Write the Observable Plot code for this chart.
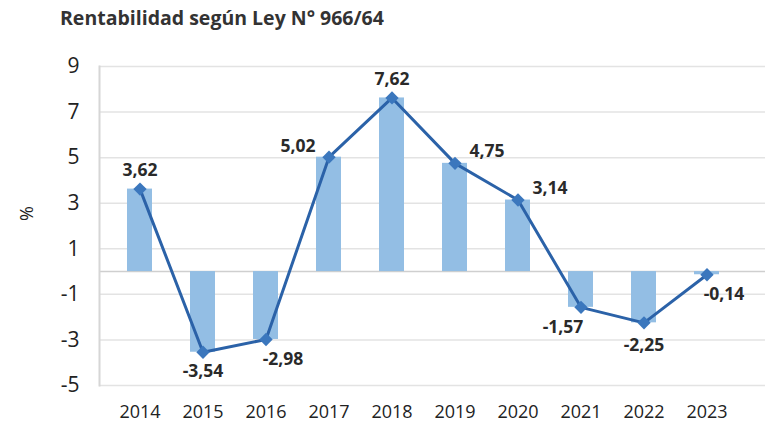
<!DOCTYPE html>
<html>
<head>
<meta charset="utf-8">
<script src="https://cdn.jsdelivr.net/npm/d3@7"></script>
<script src="https://cdn.jsdelivr.net/npm/@observablehq/plot@0.6"></script>
<style>
  body { margin: 0; background: #fff; font-family: "Open Sans", sans-serif; }
  #title { height: 40px; box-sizing: border-box; padding: 4px 0 0 60px; font-size: 19.5px; font-weight: 700; color: #333; }
</style>
</head>
<body>
<div id="title">Rentabilidad según Ley N° 966/64</div>
<div id="chart"></div>
<script>
const years = ["2014","2015","2016","2017","2018","2019","2020","2021","2022","2023"];
const values = [3.62, -3.54, -2.98, 5.02, 7.62, 4.75, 3.14, -1.57, -2.25, -0.14];
const labelPos = ["above","below","below-right","above-left","above","right","right","below-left","below-far","below-right"];
const yTicks = [9, 7, 5, 3, 1, -1, -3, -5];

const data = years.map((y, i) => ({year: y, value: values[i], pos: labelPos[i]}));
const offsets = {
  "above": [0, -19], "below": [0, 19], "below-far": [0, 23], "below-right": [17, 20],
  "above-left": [-31, -11], "right": [32, -12], "below-left": [-18, 20]
};
const fmt = d => d.toFixed(2).replace(".", ",");

const labelMarks = Object.keys(offsets).map(p => Plot.text(data.filter(d => d.pos === p), {
  x: "year", y: "value", text: d => fmt(d.value), dx: offsets[p][0], dy: offsets[p][1],
  fontSize: 17.5, fontWeight: 700, fill: "#2a2a2a"
}));

const chart = Plot.plot({
  width: 770,
  height: 400,
  marginTop: 26,
  marginBottom: 55,
  marginLeft: 99,
  marginRight: 5,
  style: {fontFamily: "Open Sans, sans-serif", color: "#222", background: "#fff"},
  x: {type: "band", domain: years, range: [108.5, 738.5], paddingInner: 0.6, paddingOuter: 0.3, label: null},
  y: {domain: [-5, 9], label: null},
  marks: [
    Plot.ruleY(yTicks, {stroke: "#e3e3e3", strokeWidth: 1.5}),
    Plot.ruleY([0], {stroke: "#cfcfcf", strokeWidth: 1.5}),
    Plot.frame({anchor: "left", stroke: "#d6d6d6", strokeWidth: 2}),
    Plot.barY(data, {x: "year", y: "value", fill: "#93bee4"}),
    Plot.line(data, {x: "year", y: "value", stroke: "#2b62a8", strokeWidth: 3}),
    Plot.dot(data, {x: "year", y: "value", symbol: "diamond2", r: 6, fill: "#3b77bd", stroke: "none"}),
    ...labelMarks,
    Plot.axisY({ticks: yTicks, tickSize: 0, tickPadding: 20, fontSize: 21, tickFormat: d => String(d), label: null}),
    Plot.axisX({tickSize: 0, tickPadding: 20, fontSize: 18, label: null}),
    Plot.text(["%"], {frameAnchor: "left", dx: -72, dy: -5, rotate: -90, fontSize: 18, fill: "#222"})
  ]
});
document.getElementById("chart").appendChild(chart);
</script>
</body>
</html>
